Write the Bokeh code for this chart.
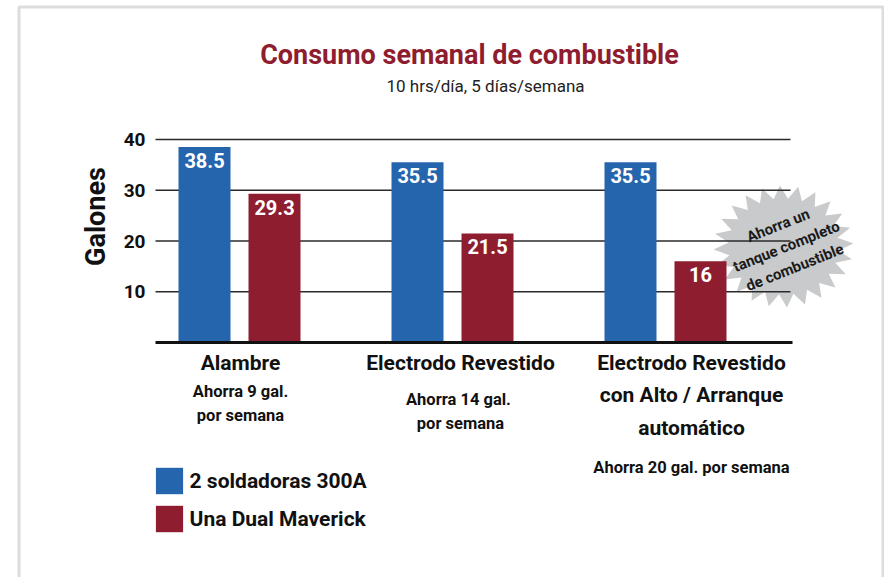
import numpy as np
from bokeh.plotting import figure
from bokeh.models import (ColumnDataSource, Range1d, Label, Legend, LegendItem,
                          PolyAnnotation, BoxAnnotation)
from bokeh.core.properties import value
from bokeh.transform import dodge
from bokeh.embed import file_html
from bokeh.resources import INLINE

# ---------------- data ----------------
title = "Consumo semanal de combustible"
subtitle = "10 hrs/día, 5 días/semana"
categories = ["Alambre", "Electrodo Revestido",
              "Electrodo Revestido\ncon Alto / Arranque\nautomático"]
savings = ["Ahorra 9 gal.\npor semana", "Ahorra  14 gal.\npor semana",
           "Ahorra 20 gal. por semana"]
series = ["2 soldadoras 300A", "Una Dual Maverick"]
values_300a = [38.5, 35.5, 35.5]
values_maverick = [29.3, 21.5, 16]
y_ticks = [10, 20, 30, 40]
y_label = "Galones"
callout = "Ahorra un\ntanque completo\nde combustible"

# ---------------- style / layout ----------------
FONT = "Roboto"
BLUE = "#2565AE"
RED = "#8E1E2F"
TITLE_RED = "#8F1D30"
INK = "#111111"
W, H = 884, 577
OFF = 0             # picture origin = canvas origin
PX0, GX = 239, 213  # x of first category, px per category step
PY0, KY = 342, 5.075  # y of zero, px per gallon

def xd(px):   # px -> data x
    return (px - PX0) / GX

def yd(py):   # px -> data y
    return (PY0 - py) / KY

p = figure(width=W, height=H, output_backend="svg", toolbar_location=None,
           x_axis_location=None, y_axis_location=None,
           x_range=Range1d(xd(OFF), xd(OFF + W)), y_range=Range1d(yd(OFF + H), yd(OFF)),
           min_border=0)
p.outline_line_color = None
p.background_fill_color = "white"
p.border_fill_color = "white"
p.grid.visible = False

# outer frame
p.add_layout(BoxAnnotation(left=xd(18.5), right=xd(OFF + W - 1.5), top=yd(6.5),
                           bottom=yd(900), fill_alpha=0, line_color="#8a8a8a",
                           line_width=3, level="underlay"))

# gridlines and value axis labels (from the tick list)
tick_src = ColumnDataSource(dict(y=y_ticks, t=[str(t) for t in y_ticks]))
p.segment(x0=xd(155), x1=xd(790), y0="y", y1="y", source=tick_src,
          line_color="#2a2a2a", line_width=1.3)
p.text(x=xd(145), y="y", text="t", source=tick_src, text_font=value(FONT),
       text_font_style="bold", text_font_size="19px", text_color=INK,
       text_align="right", text_baseline="middle")

# starburst callout
cx, cy = xd(783), yd(246)
n = 24
k = np.arange(2 * n)
ang = k * np.pi / n + 0.05
rx = np.where(k % 2 == 0, 70, 55)
ry = np.where(k % 2 == 0, 61, 48)
p.add_layout(PolyAnnotation(xs=list(cx + rx * np.cos(ang) / GX),
                            ys=list(cy + ry * np.sin(ang) / KY),
                            fill_color="#c9cacc", fill_alpha=1, line_color=None,
                            level="underlay"))

idx = list(range(len(categories)))
src = ColumnDataSource(dict(
    idx=idx, a=values_300a, b=values_maverick,
    a_txt=[f"{v:g}" for v in values_300a], b_txt=[f"{v:g}" for v in values_maverick]))

DODGE = 35 / GX
BW = 52 / GX
r1 = p.vbar(x=dodge("idx", -DODGE, range=p.x_range), top="a", width=BW, source=src,
            fill_color=BLUE, line_color=None)
r2 = p.vbar(x=dodge("idx", DODGE, range=p.x_range), top="b", width=BW, source=src,
            fill_color=RED, line_color=None)

for col, off in (("a", -DODGE), ("b", DODGE)):
    p.text(x=dodge("idx", off, range=p.x_range), y=col, text=col + "_txt", source=src,
           text_font=value(FONT), text_font_style="bold", text_font_size="20px",
           text_color="white", text_align="center", text_baseline="top", y_offset=6)

# baseline
p.segment(x0=xd(155), x1=xd(792), y0=0, y1=0, line_color=INK, line_width=3)

# category labels (lines split out of the names)
name_x_off = [1, 8, 26]
rows = dict(x=[], t=[], xo=[], yo=[])
for i, name in enumerate(categories):
    for j, line in enumerate(name.split("\n")):
        rows["x"].append(idx[i]); rows["t"].append(line)
        rows["xo"].append(name_x_off[i]); rows["yo"].append(20 + 32.5 * j)
p.text(x="x", y=0, text="t", x_offset="xo", y_offset="yo",
       source=ColumnDataSource(rows), text_font=value(FONT), text_font_style="bold",
       text_font_size="21px", text_color=INK, text_align="center",
       text_baseline="alphabetic")

sav_start = [49, 57, 125]
rows = dict(x=[], t=[], xo=[], yo=[])
for i, s in enumerate(savings):
    for j, line in enumerate(s.split("\n")):
        rows["x"].append(idx[i]); rows["t"].append(line)
        rows["xo"].append(name_x_off[i]); rows["yo"].append(sav_start[i] + 23.5 * j)
p.text(x="x", y=0, text="t", x_offset="xo", y_offset="yo",
       source=ColumnDataSource(rows), text_font=value(FONT), text_font_style="bold",
       text_font_size="16.5px", text_color=INK, text_align="center",
       text_baseline="alphabetic")

# titles
p.add_layout(Label(x=xd(469), y=yd(54), text=title, text_font=FONT,
                   text_font_style="bold", text_font_size="27px", text_color=TITLE_RED,
                   text_align="center", text_baseline="alphabetic"))
p.add_layout(Label(x=xd(485), y=yd(85), text=subtitle, text_font=FONT,
                   text_font_size="17px", text_color="#222222",
                   text_align="center", text_baseline="alphabetic"))

# y-axis title
p.add_layout(Label(x=xd(95), y=yd(216), text=y_label, text_font=FONT,
                   text_font_style="bold", text_font_size="27px", text_color=INK,
                   angle=np.pi / 2, text_align="center", text_baseline="middle"))

# callout text
p.add_layout(Label(x=xd(786), y=yd(246), text=callout, text_font=FONT,
                   text_font_style="bold", text_font_size="15px", text_color="#1a1a1a",
                   angle=0.38, text_align="center", text_baseline="middle",
                   text_line_height=1.25))

legend = Legend(items=[LegendItem(label=series[0], renderers=[r1]),
                       LegendItem(label=series[1], renderers=[r2])],
                location=(151.6 - OFF, OFF + H - 535.25), orientation="vertical",
                padding=0, margin=0, spacing=5, glyph_width=34, glyph_height=33,
                label_standoff=4, label_text_font=FONT, label_text_font_style="bold",
                label_text_font_size="21px", label_text_color=INK,
                border_line_color=None, background_fill_alpha=0)
p.add_layout(legend)

open("out.html", "w").write(file_html(p, INLINE))
